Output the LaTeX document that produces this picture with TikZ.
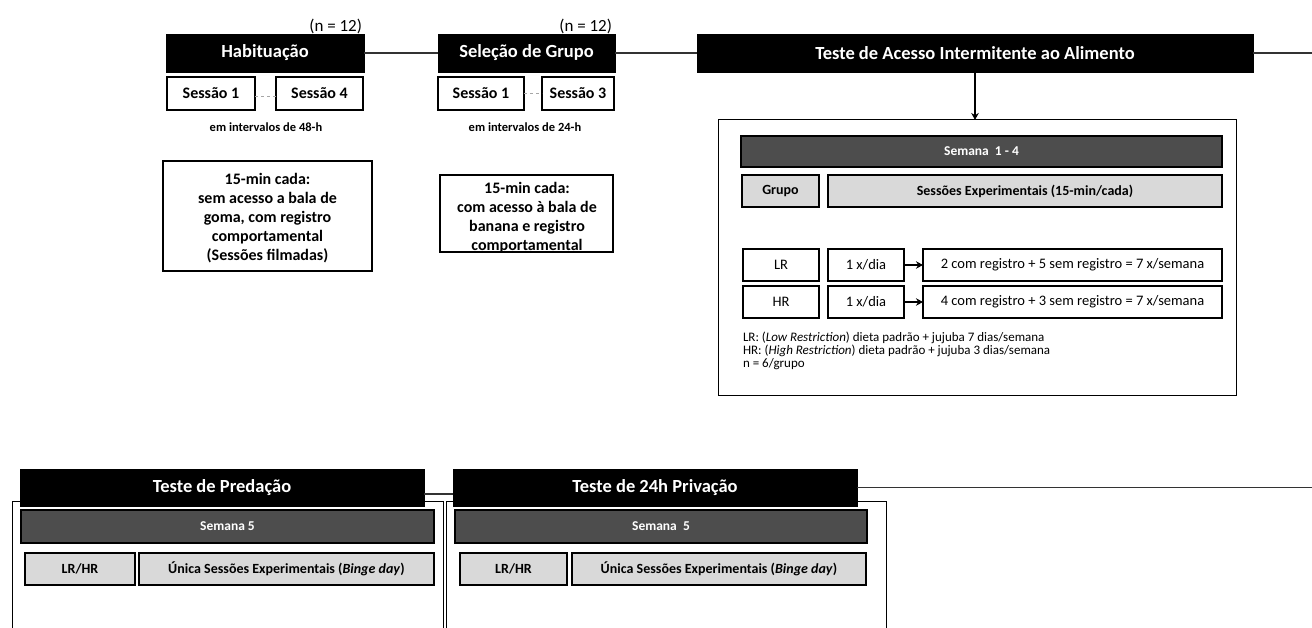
\documentclass[tikz,border=0pt]{standalone}
\usepackage{fontspec}
\setmainfont{Carlito}
\usetikzlibrary{arrows.meta}
\definecolor{darkbar}{HTML}{4D4D4D}
\definecolor{lightbar}{HTML}{D9D9D9}
\definecolor{conn}{HTML}{333333}
\tikzset{
  base/.style={inner sep=0pt, outer sep=0pt, align=center},
  titlebox/.style={base, fill=black, draw=black, text=white, font=\bfseries\fontsize{18.5}{22}\selectfont},
  sessbox/.style={base, draw=black, line width=1.2pt, fill=white, font=\bfseries\fontsize{16}{19}\selectfont},
  textbox/.style={base, draw=black, line width=1.2pt, fill=white},
  boxtext/.style={base, font=\bfseries\fontsize{16}{19.2}\selectfont},
  container/.style={base, draw=black, line width=1pt, fill=white},
  darkbox/.style={base, draw=black, line width=1.2pt, fill=darkbar, text=white, font=\bfseries\fontsize{13.5}{16}\selectfont},
  greybox/.style={base, draw=black, line width=1.2pt, fill=lightbar, font=\bfseries\fontsize{14}{16}\selectfont},
  rowbox/.style={base, draw=black, line width=1.2pt, fill=white, font=\fontsize{14.5}{17}\selectfont},
  small/.style={base, font=\bfseries\fontsize{12.5}{14}\selectfont},
  nlabel/.style={base, font=\fontsize{17}{19}\selectfont},
  connector/.style={draw=conn, line width=1.3pt},
  dashconn/.style={draw=gray!70, line width=1pt, dashed},
  arrowconn/.style={draw=black, line width=1.3pt, -{Stealth[length=7pt,width=7.5pt]}},
}
\begin{document}
\begin{tikzpicture}[x=1pt,y=-1pt]
\clip (0,0) rectangle (1312,628);
\fill[white] (0,0) rectangle (1312,628);

% ---- top row ----
\node[titlebox, minimum width=198, minimum height=38] (hab) at (265,53) {Habituação};
\node[titlebox, minimum width=177, minimum height=38] (sel) at (526.5,53) {Seleção de Grupo};
\node[titlebox, minimum width=556, minimum height=38] (tia) at (975,53) {Teste de Acesso Intermitente ao Alimento};
\coordinate (endA) at (1312,53);

\node[nlabel, anchor=south east] (nhab) at (362,34) {(n = 12)};
\node[nlabel, anchor=south east] (nsel) at (612,34) {(n = 12)};

\node[sessbox, minimum width=88, minimum height=33] (hs1) at (211,93.5) {Sessão 1};
\node[sessbox, minimum width=87, minimum height=33] (hs4) at (319.5,93.5) {Sessão 4};
\node[sessbox, minimum width=86, minimum height=33] (ss1) at (481,93.5) {Sessão 1};
\node[sessbox, minimum width=72, minimum height=33] (ss3) at (578,93.5) {Sessão 3};

\node[small] (int48) at (266,127) {em intervalos de 48-h};
\node[small] (int24) at (525,127) {em intervalos de 24-h};

\node[textbox, minimum width=209, minimum height=110] (b1) at (267.5,216) {};
\node[boxtext] (b1t) at (267.5,218)
  {15-min cada:\\sem acesso a bala de\\goma, com registro\\comportamental\\(Sessões filmadas)};
\node[textbox, minimum width=173, minimum height=77] (b2) at (526.5,213.5) {};
\node[boxtext] (b2t) at (527,217.5)
  {15-min cada:\\com acesso à bala de\\banana e registro\\comportamental};

\draw[connector] (hab.east) -- (sel.west);
\draw[connector] (sel.east) -- (tia.west);
\draw[connector] (tia.east) -- (endA);
\draw[dashconn] ([yshift=-3pt]hs1.east) -- ([yshift=-3pt]hs4.west);
\draw[dashconn] (ss1.east) -- (ss3.west);

% ---- intermittent access container ----
\node[container, minimum width=518, minimum height=275] (cont) at (977,257.5) {};
\draw[arrowconn] (tia.south) -- (cont.north -| tia.south);

\node[darkbox, minimum width=481, minimum height=31] (sem14) at (981.5,151.5) {Semana\ \ 1 - 4};
\node[greybox, minimum width=77, minimum height=32] (grupo) at (780.5,191) {Grupo};
\node[greybox, minimum width=394, minimum height=32] (sessexp) at (1025,191) {Sessões Experimentais (15-min/cada)};

\node[rowbox, minimum width=76, minimum height=32] (lr) at (781,265) {LR};
\node[rowbox, minimum width=76, minimum height=32] (lrx) at (866,265) {1 x/dia};
\node[rowbox, minimum width=299, minimum height=32] (lrr) at (1072.5,265) {2 com registro + 5 sem registro = 7 x/semana};
\node[rowbox, minimum width=76, minimum height=32] (hr) at (781,302) {HR};
\node[rowbox, minimum width=76, minimum height=32] (hrx) at (866,302) {1 x/dia};
\node[rowbox, minimum width=299, minimum height=32] (hrr) at (1072.5,302) {4 com registro + 3 sem registro = 7 x/semana};
\draw[arrowconn] (lrx.east) -- (lrr.west);
\draw[arrowconn] (hrx.east) -- (hrr.west);

\node[base, anchor=north west, align=left, font=\fontsize{13}{13}\selectfont] (notes) at (743,332)
  {LR: (\textit{Low Restriction}) dieta padrão + jujuba 7 dias/semana\\
   HR: (\textit{High Restriction}) dieta padrão + jujuba 3 dias/semana\\
   n = 6/grupo};

% ---- bottom row ----
\node[container, minimum width=431, minimum height=149] (contl) at (227.5,575.5) {};
\node[container, minimum width=440, minimum height=149] (contr) at (666,575.5) {};

\node[titlebox, minimum width=404, minimum height=37] (pred) at (222,487.5) {Teste de Predação};
\node[titlebox, minimum width=404, minimum height=37] (priv) at (655,487.5) {Teste de 24h Privação};
\coordinate (endB) at (1312,487.5);
\draw[connector] ([yshift=-6.5pt]pred.east) -- ([yshift=-6.5pt]priv.west);
\draw[connector] (priv.east) -- (endB);

\node[darkbox, minimum width=413, minimum height=33] (s5l) at (227.5,526.5) {Semana 5};
\node[darkbox, minimum width=412, minimum height=33] (s5r) at (661,526.5) {Semana\ \ 5};

\node[greybox, minimum width=110, minimum height=32] (lrhrl) at (80,569) {LR/HR};
\node[greybox, minimum width=295, minimum height=32] (unl) at (286.5,569) {Única Sessões Experimentais (\textit{Binge day})};
\node[greybox, minimum width=107, minimum height=32] (lrhrr) at (513.5,569) {LR/HR};
\node[greybox, minimum width=294, minimum height=32] (unr) at (719,569) {Única Sessões Experimentais (\textit{Binge day})};
\end{tikzpicture}
\end{document}
